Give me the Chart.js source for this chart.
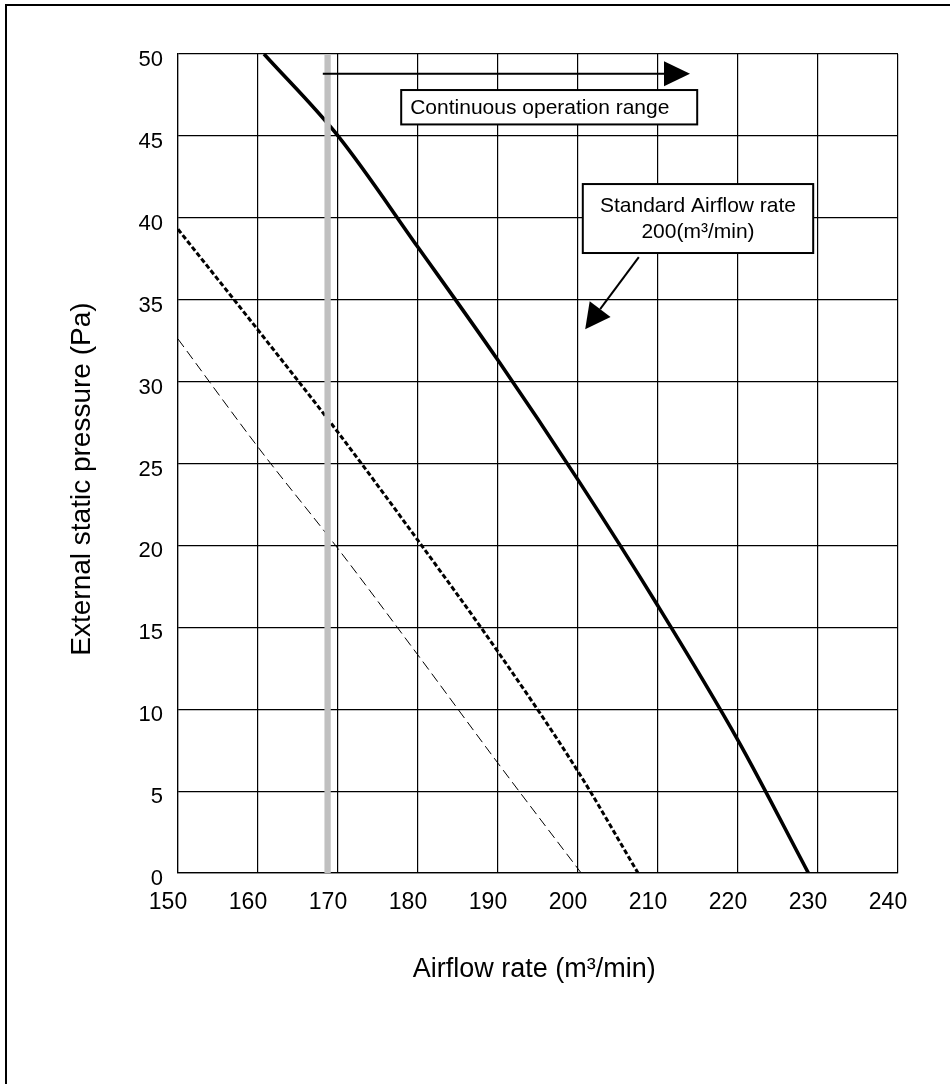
<!DOCTYPE html>
<html>
<head>
<meta charset="utf-8">
<script src="https://cdn.jsdelivr.net/npm/chart.js@4/dist/chart.umd.min.js"></script>
<style>
    body { margin: 0; background: #fff; }
    #frame {
        position: absolute; left: 5px; top: 4px; width: 945px; height: 1080px;
        border-top: 2.5px solid #000; border-left: 2.5px solid #000;
    }
    #fanChart { position: absolute; left: 0; top: 0; }
</style>
</head>
<body>
<div id="frame"></div>
<canvas id="fanChart" width="950" height="1084"></canvas>
<script>
// ============================================
// DATA
// ============================================

// Axis ticks
const airflowTicks = [150, 160, 170, 180, 190, 200, 210, 220, 230, 240];
const pressureTicks = [0, 5, 10, 15, 20, 25, 30, 35, 40, 45, 50];

// Solid (thick) curve
const solidAirflow = [160.75, 170, 180, 190, 200, 210, 220, 228.8];
const solidPressure = [50, 45, 38.2, 31.3, 24.0, 16.3, 8.1, 0];

// Dotted curve
const dottedAirflow = [150, 160, 170, 180, 190, 200, 207.5];
const dottedPressure = [39.3, 33.15, 26.9, 20.3, 13.5, 6.2, 0];

// Thin dashed curve
const dashedAirflow = [150, 160, 170, 180, 190, 200.4];
const dashedPressure = [32.6, 26.0, 19.8, 13.3, 6.7, 0];

// Lower limit of continuous operation (grey vertical line)
const limitAirflow = [168.7, 168.7];
const limitPressure = [0, 50];

const FONT = "'Liberation Sans', Arial, sans-serif";

// Turn two value arrays into {x, y} points
function toPoints(xs, ys) {
    return xs.map((x, i) => ({ x: x, y: ys[i] }));
}

// ============================================
// ANNOTATIONS - arrows and text boxes (data units)
// ============================================
const rangeArrow = { x1: 168.1, x2: 214, y: 48.8 };
const rangeBox = { x1: 177.9, x2: 214.9, y1: 47.8, y2: 45.7, text: 'Continuous operation range' };
const standardBox = { x1: 200.6, x2: 229.4, y1: 42.06, y2: 37.85,
                      lines: ['Standard Airflow rate', '200(m\u00B3/min)'] };
const standardArrow = { x1: 207.6, y1: 37.6, x2: 200.9, y2: 33.2 };

// Draw a line with a filled triangular head at (x2, y2)
function drawArrow(ctx, x1, y1, x2, y2, headLen, headWidth) {
    const ang = Math.atan2(y2 - y1, x2 - x1);
    const bx = x2 - headLen * Math.cos(ang);
    const by = y2 - headLen * Math.sin(ang);
    ctx.beginPath();
    ctx.moveTo(x1, y1);
    ctx.lineTo(bx, by);
    ctx.stroke();
    ctx.beginPath();
    ctx.moveTo(x2, y2);
    ctx.lineTo(bx + headWidth / 2 * Math.sin(ang), by - headWidth / 2 * Math.cos(ang));
    ctx.lineTo(bx - headWidth / 2 * Math.sin(ang), by + headWidth / 2 * Math.cos(ang));
    ctx.closePath();
    ctx.fill();
}

const annotationPlugin = {
    id: 'annotations',
    afterDatasetsDraw(chart) {
        const { ctx, scales: { x, y } } = chart;
        ctx.save();
        ctx.strokeStyle = '#000';
        ctx.fillStyle = '#000';

        // Horizontal arrow for the operation range
        ctx.lineWidth = 2;
        drawArrow(ctx, x.getPixelForValue(rangeArrow.x1), y.getPixelForValue(rangeArrow.y),
                  x.getPixelForValue(rangeArrow.x2), y.getPixelForValue(rangeArrow.y), 26, 25);

        // Box: continuous operation range
        let l = x.getPixelForValue(rangeBox.x1), r = x.getPixelForValue(rangeBox.x2);
        let t = y.getPixelForValue(rangeBox.y1), b = y.getPixelForValue(rangeBox.y2);
        ctx.fillStyle = '#fff';
        ctx.fillRect(l, t, r - l, b - t);
        ctx.lineWidth = 2;
        ctx.strokeRect(l, t, r - l, b - t);
        ctx.fillStyle = '#000';
        ctx.font = '21px ' + FONT;
        ctx.textAlign = 'left';
        ctx.textBaseline = 'middle';
        ctx.fillText(rangeBox.text, l + 9, (t + b) / 2 + 1);

        // Box: standard airflow rate
        l = x.getPixelForValue(standardBox.x1); r = x.getPixelForValue(standardBox.x2);
        t = y.getPixelForValue(standardBox.y1); b = y.getPixelForValue(standardBox.y2);
        ctx.fillStyle = '#fff';
        ctx.fillRect(l, t, r - l, b - t);
        ctx.strokeRect(l, t, r - l, b - t);
        ctx.fillStyle = '#000';
        ctx.textAlign = 'center';
        const mid = (t + b) / 2;
        ctx.fillText(standardBox.lines[0], (l + r) / 2, mid - 12);
        ctx.fillText(standardBox.lines[1], (l + r) / 2, mid + 14);

        // Diagonal arrow pointing to the curves
        ctx.lineWidth = 2;
        drawArrow(ctx, x.getPixelForValue(standardArrow.x1), y.getPixelForValue(standardArrow.y1),
                  x.getPixelForValue(standardArrow.x2), y.getPixelForValue(standardArrow.y2), 25, 26);
        ctx.restore();
    }
};

// ============================================
// CHART
// ============================================
const ctx = document.getElementById('fanChart').getContext('2d');

const fanChart = new Chart(ctx, {
    type: 'scatter',
    data: {
        datasets: [
            {
                data: toPoints(limitAirflow, limitPressure),
                borderColor: '#c0c0c0',
                borderWidth: 6.3,
                showLine: true,
                pointRadius: 0
            },
            {
                data: toPoints(dashedAirflow, dashedPressure),
                borderColor: '#000',
                borderWidth: 1,
                borderDash: [10, 5],
                showLine: true,
                pointRadius: 0,
                cubicInterpolationMode: 'monotone'
            },
            {
                data: toPoints(dottedAirflow, dottedPressure),
                borderColor: '#000',
                borderWidth: 3,
                borderDash: [5, 2.5],
                showLine: true,
                pointRadius: 0,
                cubicInterpolationMode: 'monotone'
            },
            {
                data: toPoints(solidAirflow, solidPressure),
                borderColor: '#000',
                borderWidth: 3.6,
                showLine: true,
                pointRadius: 0,
                cubicInterpolationMode: 'monotone'
            }
        ]
    },
    options: {
        responsive: false,
        animation: false,
        events: [],
        layout: {
            padding: { top: 54, right: 52, bottom: 98, left: 65 }
        },
        plugins: {
            legend: { display: false },
            tooltip: { enabled: false }
        },
        scales: {
            x: {
                type: 'linear',
                min: 150,
                max: 240,
                afterBuildTicks: (scale) => { scale.ticks = airflowTicks.map(v => ({ value: v })); },
                afterFit: (scale) => { scale.height = 113; },
                grid: { color: '#000', lineWidth: 1.2, drawTicks: false },
                border: { color: '#000', width: 1.2 },
                ticks: {
                    color: '#000',
                    padding: 16,
                    labelOffset: -10,
                    maxRotation: 0,
                    font: { family: FONT, size: 23 }
                },
                title: {
                    display: true,
                    text: 'Airflow rate (m\u00B3/min) ',
                    color: '#000',
                    padding: 0,
                    font: { family: FONT, size: 27 }
                }
            },
            y: {
                type: 'linear',
                min: 0,
                max: 50,
                afterBuildTicks: (scale) => { scale.ticks = pressureTicks.map(v => ({ value: v })); },
                afterFit: (scale) => { scale.width = 113; },
                grid: { color: '#000', lineWidth: 1.2, drawTicks: false },
                border: { color: '#000', width: 1.2 },
                ticks: {
                    color: '#000',
                    padding: 15,
                    labelOffset: 6,
                    font: { family: FONT, size: 22 }
                },
                title: {
                    display: true,
                    text: 'External static pressure (Pa)    ',
                    color: '#000',
                    padding: 0,
                    font: { family: FONT, size: 28 }
                }
            }
        }
    },
    plugins: [annotationPlugin]
});
</script>
</body>
</html>
